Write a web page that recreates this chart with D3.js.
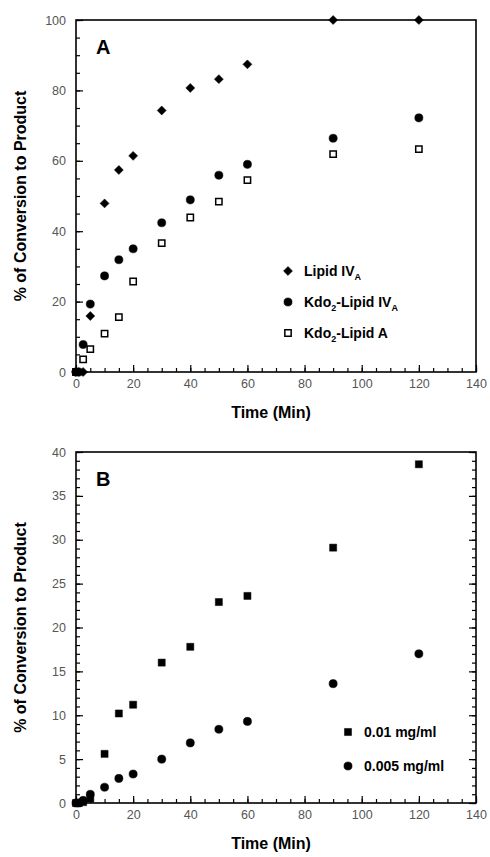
<!DOCTYPE html>
<html>
<head>
<meta charset="utf-8">
<script src="https://cdn.jsdelivr.net/npm/d3@7"></script>
<style>
  body { margin: 0; background: #fff; }
  svg { font-family: "Liberation Sans", Arial, sans-serif; }
  .tick text { fill: #555; font-size: 12.5px; }
  .axis path.domain { display: none; }
  .axis line { stroke: #000; stroke-width: 1.2; }
</style>
</head>
<body>
<div id="chart"></div>
<script>
// panel A data (time in min, % conversion)
var timeA = [0, 1, 2.5, 5, 10, 15, 20, 30, 40, 50, 60, 90, 120];
var lipidIVA = [0, 0, 0, 15.9, 47.9, 57.4, 61.4, 74.3, 80.7, 83.2, 87.4, 100, 100];
var kdoLipidIVA = [0, 0, 7.8, 19.3, 27.3, 31.9, 35.0, 42.4, 48.9, 55.9, 59.0, 66.4, 72.2];
var timeA_kdoA = [0, 2.5, 5, 10, 15, 20, 30, 40, 50, 60, 90, 120];
var kdoLipidA = [0, 3.6, 6.5, 10.9, 15.6, 25.7, 36.6, 43.9, 48.4, 54.5, 61.9, 63.3];

// panel B data
var timeB = [0, 1, 2.5, 5, 10, 15, 20, 30, 40, 50, 60, 90, 120];
var conc001 = [0, 0, 0.1, 0.5, 5.6, 10.2, 11.2, 16.0, 17.8, 22.9, 23.6, 29.1, 38.6];
var conc0005 = [0, 0, 0.3, 1.0, 1.8, 2.8, 3.3, 5.0, 6.85, 8.4, 9.3, 13.6, 17.0];

var xTicks = [0, 20, 40, 60, 80, 100, 120, 140];
var yTicksA = [0, 20, 40, 60, 80, 100];
var yTicksB = [0, 5, 10, 15, 20, 25, 30, 35, 40];

var W = 490, H = 857;
var svg = d3.select("#chart").append("svg")
  .attr("width", W).attr("height", H);

function zip(xs, ys) {
  return xs.map(function(x, i) { return { t: x, v: ys[i] }; });
}

function panel(opts) {
  var x = d3.scaleLinear().domain([0, 140]).range([opts.left, opts.right]);
  var y = d3.scaleLinear().domain([0, opts.ymax]).range([opts.bottom, opts.top]);
  var g = svg.append("g");

  // minor ticks x
  g.append("g").attr("class", "axis")
    .attr("transform", "translate(0," + opts.bottom + ")")
    .call(d3.axisBottom(x).tickValues(d3.range(0, 141, 5)).tickFormat("")
      .tickSizeInner(-4).tickSizeOuter(0));
  // major ticks x
  g.append("g").attr("class", "axis")
    .attr("transform", "translate(0," + opts.bottom + ")")
    .call(d3.axisBottom(x).tickValues(xTicks).tickSizeInner(-7).tickSizeOuter(0).tickPadding(7));

  // minor ticks y
  g.append("g").attr("class", "axis")
    .attr("transform", "translate(" + opts.left + ",0)")
    .call(d3.axisLeft(y).tickValues(d3.range(0, opts.ymax + 0.1, opts.yMinor)).tickFormat("")
      .tickSizeInner(-4).tickSizeOuter(0));
  g.append("g").attr("class", "axis")
    .attr("transform", "translate(" + opts.left + ",0)")
    .call(d3.axisLeft(y).tickValues(opts.yTicks).tickSizeInner(-7).tickSizeOuter(0).tickPadding(10));

  if (opts.rightTicks) {
    g.append("g").attr("class", "axis")
      .attr("transform", "translate(" + opts.right + ",0)")
      .call(d3.axisRight(y).tickValues(d3.range(0, opts.ymax + 0.1, opts.yMinor)).tickFormat("")
        .tickSizeInner(-4).tickSizeOuter(0));
    g.append("g").attr("class", "axis")
      .attr("transform", "translate(" + opts.right + ",0)")
      .call(d3.axisRight(y).tickValues(opts.yTicks).tickFormat("").tickSizeInner(-7).tickSizeOuter(0));
  }

  // frame
  g.append("rect")
    .attr("x", opts.left).attr("y", opts.top)
    .attr("width", opts.right - opts.left).attr("height", opts.bottom - opts.top)
    .attr("fill", "none").attr("stroke", "#000").attr("stroke-width", 1.6);

  // axis titles
  g.append("text")
    .attr("x", (opts.left + opts.right) / 2 - 5).attr("y", opts.bottom + 46)
    .attr("text-anchor", "middle").style("font-weight", "bold").style("font-size", "16px")
    .text("Time (Min)");
  g.append("text")
    .attr("transform", "translate(26," + ((opts.top + opts.bottom) / 2) + ") rotate(-90)")
    .attr("text-anchor", "middle").style("font-weight", "bold").style("font-size", "16px")
    .text("% of Conversion to Product");

  // panel letter
  g.append("text")
    .attr("x", opts.left + 20).attr("y", opts.top + 34)
    .style("font-weight", "bold").style("font-size", "20px")
    .text(opts.letter);

  return { g: g, x: x, y: y };
}

// symmetric diamond: a square turned by 45 degrees
var symDiamond = d3.symbol().type(d3.symbolSquare).size(40);
var symCircle = d3.symbol().type(d3.symbolCircle).size(52);
var symSquare = d3.symbol().type(d3.symbolSquare).size(40);
var symSquareF = d3.symbol().type(d3.symbolSquare).size(50);

function drawPoints(p, data, sym, filled, rot) {
  p.g.selectAll(null).data(data).enter().append("path")
    .attr("transform", function(d) {
      return "translate(" + p.x(d.t) + "," + p.y(d.v) + ")" + (rot ? " rotate(45)" : "");
    })
    .attr("d", sym)
    .attr("fill", filled ? "#000" : "#fff")
    .attr("stroke", "#000")
    .attr("stroke-width", filled ? 0.5 : 1.5);
}

function legendRow(g, x, y, sym, filled, parts, rot) {
  g.append("path")
    .attr("transform", "translate(" + x + "," + y + ")" + (rot ? " rotate(45)" : ""))
    .attr("d", sym)
    .attr("fill", filled ? "#000" : "#fff")
    .attr("stroke", "#000").attr("stroke-width", filled ? 0.5 : 1.5);
  var t = g.append("text").attr("x", x + 16).attr("y", y + 5)
    .style("font-weight", "bold").style("font-size", "14px");
  parts.forEach(function(pt) {
    var s = t.append("tspan").text(pt[0]);
    if (pt[1]) s.style("font-size", "9px").attr("dy", 4);
    else if (pt[2]) s.attr("dy", -4);
  });
}

// Panel A
var pA = panel({ left: 76, right: 476, top: 20, bottom: 372, ymax: 100, yMinor: 5,
  yTicks: yTicksA, letter: "A", rightTicks: false });
drawPoints(pA, zip(timeA_kdoA, kdoLipidA), symSquare, false);
drawPoints(pA, zip(timeA, kdoLipidIVA), symCircle, true);
drawPoints(pA, zip(timeA, lipidIVA), symDiamond, true, true);

legendRow(pA.g, 288, 271, symDiamond, true, [["Lipid IV"], ["A", true]], true);
legendRow(pA.g, 288, 302, symCircle, true, [["Kdo"], ["2", true], ["-Lipid IV", false, true], ["A", true]]);
legendRow(pA.g, 288, 333, symSquare, false, [["Kdo"], ["2", true], ["-Lipid A", false, true]]);

// Panel B
var pB = panel({ left: 76, right: 476, top: 452, bottom: 803, ymax: 40, yMinor: 1,
  yTicks: yTicksB, letter: "B", rightTicks: true });
drawPoints(pB, zip(timeB, conc0005), symCircle, true);
drawPoints(pB, zip(timeB, conc001), symSquareF, true);

legendRow(pB.g, 348, 732, symSquareF, true, [["0.01 mg/ml"]]);
legendRow(pB.g, 348, 766, symCircle, true, [["0.005 mg/ml"]]);
</script>
</body>
</html>
